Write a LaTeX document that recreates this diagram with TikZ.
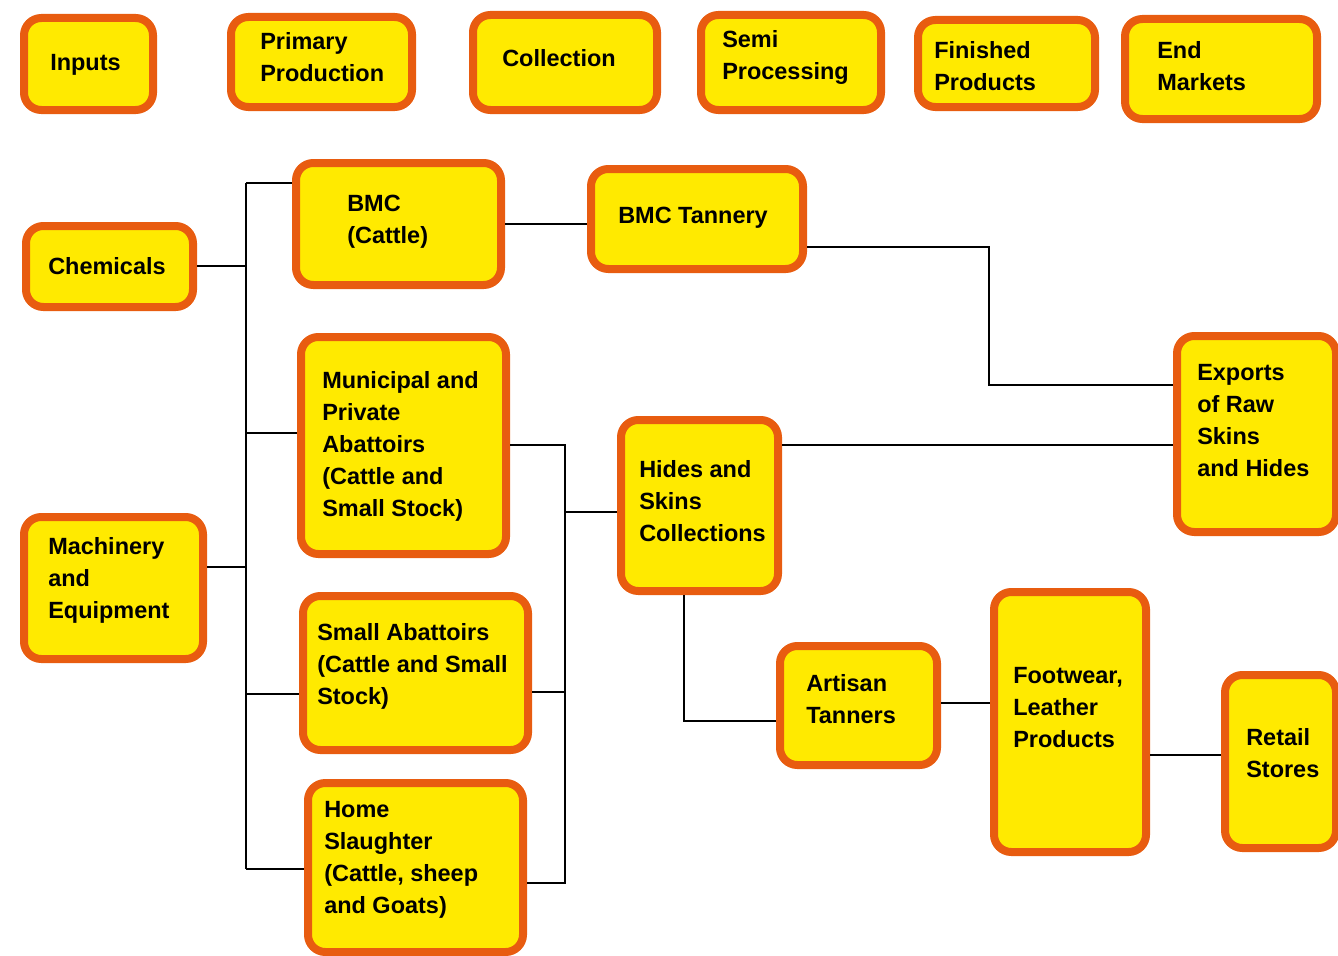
\documentclass[tikz,border=0pt]{standalone}
\usepackage{fontspec}
\setmainfont{Liberation Sans}
\usetikzlibrary{fit}
\definecolor{boxorange}{RGB}{232,92,16}
\definecolor{boxyellow}{RGB}{255,234,0}
\begin{document}
\begin{tikzpicture}[x=0.75pt,y=-0.75pt,
  blk/.style={draw=boxorange,fill=boxyellow,line width=6pt,rounded corners=13pt,inner sep=0pt},
  lbl/.style={anchor=north west,inner sep=0pt,align=left,
    font=\bfseries\fontsize{17.6}{24}\selectfont,execute at begin node=\strut},
  link/.style={draw=black,line width=1.6pt}]
\useasboundingbox (0,0) rectangle (1338,956);

% stage headings
\node[blk,fit={(24,18) (153,110)}] (inputs) {};
\node[lbl] (t-inputs) at (50,48) {Inputs};
\node[blk,fit={(231,17) (412,107)}] (primary) {};
\node[lbl] (t-primary) at (260,32) {Primary\\Production};
\node[blk,fit={(473,15) (657,110)}] (collection) {};
\node[lbl] (t-collection) at (502,44) {Collection};
\node[blk,fit={(701,15) (881,110)}] (semi) {};
\node[lbl] (t-semi) at (722,30) {Semi\\Processing};
\node[blk,fit={(918,20) (1095,107)}] (finished) {};
\node[lbl] (t-finished) at (934,41) {Finished\\Products};
\node[blk,fit={(1125,19) (1317,119)}] (endm) {};
\node[lbl] (t-endm) at (1157,41) {End\\Markets};

% chain boxes
\node[blk,fit={(26,226) (193,307)}] (chem) {};
\node[lbl] (t-chem) at (48,252) {Chemicals};
\node[blk,fit={(24,517) (203,659)}] (mach) {};
\node[lbl] (t-mach) at (48,537) {Machinery\\and\\Equipment};
\node[blk,fit={(296,163) (501,285)}] (bmc) {};
\node[lbl] (t-bmc) at (347,195) {BMC\\(Cattle)};
\node[blk,fit={(301,337) (506,554)}] (munic) {};
\node[lbl] (t-munic) at (322,371) {Municipal and\\Private\\Abattoirs\\(Cattle and\\Small Stock)};
\node[blk,fit={(303,596) (528,750)}] (small) {};
\node[lbl] (t-small) at (317,623) {Small Abattoirs\\(Cattle and Small\\Stock)};
\node[blk,fit={(308,783) (523,952)}] (home) {};
\node[lbl] (t-home) at (324,801) {Home\\Slaughter\\(Cattle, sheep\\and Goats)};
\node[blk,fit={(591,169) (803,269)}] (tannery) {};
\node[lbl] (t-tannery) at (618,201) {BMC Tannery};
\node[blk,fit={(621,420) (778,591)}] (hides) {};
\node[lbl] (t-hides) at (639,460) {Hides and\\Skins\\Collections};
\node[blk,fit={(1177,336) (1336,532)}] (exports) {};
\node[lbl] (t-exports) at (1197,364) {Exports\\of Raw\\Skins\\and Hides};
\node[blk,fit={(780,646) (937,765)}] (artisan) {};
\node[lbl] (t-artisan) at (806,674) {Artisan\\Tanners};
\node[blk,fit={(994,592) (1146,852)}] (footwear) {};
\node[lbl] (t-footwear) at (1013,667) {Footwear,\\Leather\\Products};
\node[blk,fit={(1225,675) (1336,848)}] (retail) {};
\node[lbl] (t-retail) at (1246,728) {Retail\\Stores};

% input bus
\coordinate (busl-top) at (246,183);
\coordinate (busl-bot) at (246,869);
\draw[link] (busl-top) -- (busl-bot);
\draw[link] (busl-top) -- (bmc.west |- 0,183);
\draw[link] (chem.east |- 0,266) -- (246,266);
\draw[link] (mach.east |- 0,567) -- (246,567);
\draw[link] (246,433) -- (munic.west |- 0,433);
\draw[link] (246,694) -- (small.west |- 0,694);
\draw[link] (busl-bot) -- (home.west |- 0,869);

% abattoir collection bus
\coordinate (busr-top) at (565,445);
\coordinate (busr-bot) at (565,883);
\draw[link] (munic.east |- busr-top) -- (busr-top) -- (busr-bot) -- (home.east |- busr-bot);
\draw[link] (small.east |- 0,692) -- (565,692);
\draw[link] (565,512) -- (hides.west |- 0,512);

% downstream links
\draw[link] (bmc.east |- 0,224) -- (tannery.west |- 0,224);
\draw[link] (tannery.east |- 0,247) -- (989,247) -- (989,385) -- (exports.west |- 0,385);
\draw[link] (hides.east |- 0,445) -- (exports.west |- 0,445);
\draw[link] (hides.south -| 684,0) -- (684,721) -- (artisan.west |- 0,721);
\draw[link] (artisan.east |- 0,703) -- (footwear.west |- 0,703);
\draw[link] (footwear.east |- 0,755) -- (retail.west |- 0,755);
\end{tikzpicture}
\end{document}
